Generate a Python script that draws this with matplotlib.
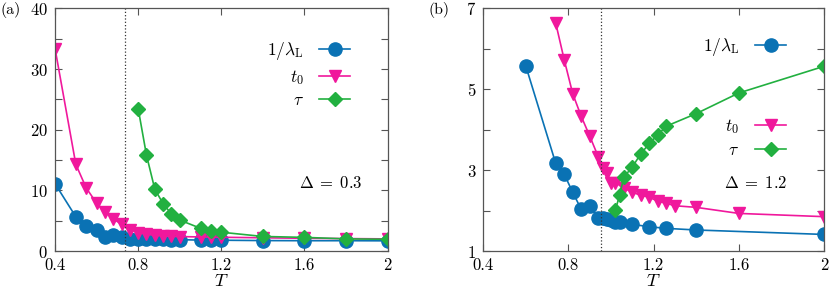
import matplotlib
matplotlib.use('Agg')
from matplotlib import pyplot as plt
from matplotlib.ticker import MultipleLocator

plt.rcParams['font.family'] = 'cmr10'
plt.rcParams['mathtext.fontset'] = 'cm'
plt.rcParams['axes.formatter.use_mathtext'] = True
plt.rcParams['font.size'] = 12

blue = '#0a72b4'
pink = '#f0189c'
green = '#22b040'

# panel (a), Delta = 0.3
Ta_lam = [0.4, 0.5, 0.55, 0.6, 0.64, 0.68, 0.72, 0.76, 0.8, 0.84, 0.88, 0.92, 0.96, 1.0,
          1.1, 1.15, 1.2, 1.4, 1.6, 1.8, 2.0]
a_lam = [11.1, 5.65, 4.1, 3.5, 2.3, 2.6, 2.25, 2.05, 1.95, 1.93, 1.9, 1.9, 1.88, 1.87,
         1.8, 1.8, 1.78, 1.72, 1.7, 1.7, 1.68]
Ta_t0 = [0.4, 0.5, 0.55, 0.6, 0.64, 0.68, 0.72, 0.76, 0.8, 0.84, 0.88, 0.92, 0.96, 1.0,
         1.1, 1.15, 1.2, 1.4, 1.6, 1.8, 2.0]
a_t0 = [33.4, 14.3, 10.4, 7.9, 6.5, 5.3, 4.4, 3.5, 3.05, 2.75, 2.6, 2.5, 2.42, 2.38,
        2.32, 2.3, 2.27, 2.18, 2.1, 2.05, 2.0]
Ta_tau = [0.8, 0.84, 0.88, 0.92, 0.96, 1.0, 1.1, 1.15, 1.2, 1.4, 1.6, 1.8, 2.0]
a_tau = [23.5, 15.8, 10.2, 7.8, 6.1, 5.1, 3.75, 3.3, 3.1, 2.4, 2.25, 2.0, 1.93]
Tc_a = 0.737

# panel (b), Delta = 1.2
Tb_lam = [0.6, 0.74, 0.78, 0.82, 0.86, 0.9, 0.94, 0.96, 0.98, 1.0, 1.02, 1.04,
          1.1, 1.18, 1.26, 1.4, 2.0]
b_lam = [5.57, 3.17, 2.9, 2.45, 2.03, 2.12, 1.81, 1.82, 1.78, 1.76, 1.72, 1.73,
         1.66, 1.6, 1.56, 1.52, 1.41]
Tb_t0 = [0.74, 0.78, 0.82, 0.86, 0.9, 0.94, 0.96, 0.98, 1.0, 1.02, 1.06, 1.1, 1.14,
         1.18, 1.22, 1.26, 1.3, 1.4, 1.6, 2.0]
b_t0 = [6.64, 5.73, 4.89, 4.33, 3.84, 3.33, 3.06, 2.92, 2.69, 2.69, 2.56, 2.45, 2.38,
        2.33, 2.23, 2.18, 2.12, 2.08, 1.93, 1.85]
Tb_tau = [1.02, 1.04, 1.06, 1.1, 1.14, 1.18, 1.22, 1.26, 1.4, 1.6, 2.0]
b_tau = [2.01, 2.38, 2.83, 3.08, 3.41, 3.66, 3.88, 4.09, 4.40, 4.91, 5.57]
Tc_b = 0.955

fig = plt.figure(figsize=(8.3, 2.93), dpi=100)
axa = fig.add_axes([0.0663, 0.1433, 0.4007, 0.8277])
axb = fig.add_axes([0.5823, 0.1433, 0.4105, 0.8277])


def style(ax):
    for s in ax.spines.values():
        s.set_color('#555555')
        s.set_linewidth(0.9)
    ax.tick_params(which='both', direction='in', top=True, right=True,
                   color='#555555', width=0.8, labelsize=12)
    ax.tick_params(which='major', length=5, pad=5)
    ax.tick_params(which='minor', length=5)
    ax.set_xlim(0.4, 2)
    ax.set_xticks([0.4, 0.8, 1.2, 1.6, 2])
    ax.set_xticklabels(['0.4', '0.8', '1.2', '1.6', '2'])
    ax.set_xlabel('$T$', labelpad=0, fontsize=13)


lw = 1.2
ms_c, ms_v, ms_d = 9.5, 9, 7
leg_kw = dict(frameon=False, markerfirst=False, handlelength=1.8,
              handletextpad=0.9, fontsize=12.5)

axa.plot(Ta_lam, a_lam, '-o', color=blue, ms=ms_c, lw=lw, label=r'$1/\lambda_{\rm L}$')
axa.plot(Ta_t0, a_t0, '-v', color=pink, ms=ms_v, lw=lw, label='$t_0$')
axa.plot(Ta_tau, a_tau, '-D', color=green, ms=ms_d, lw=lw, label=r'$\tau$')
axa.axvline(Tc_a, color='#333333', ls=':', lw=0.9)
style(axa)
axa.set_ylim(0, 40)
axa.set_yticks([0, 10, 20, 30, 40])
axa.yaxis.set_minor_locator(MultipleLocator(5))
axa.legend(loc='upper right', bbox_to_anchor=(0.935, 0.935), labelspacing=0.35, **leg_kw)
axa.text(0.83, 0.28, r'$\Delta\;=\;0.3$', transform=axa.transAxes, ha='center',
         va='center', fontsize=12)

axb.plot(Tb_lam, b_lam, '-o', color=blue, ms=ms_c, lw=lw, label=r'$1/\lambda_{\rm L}$')
axb.plot(Tb_t0, b_t0, '-v', color=pink, ms=ms_v, lw=lw, label='$t_0$')
axb.plot(Tb_tau, b_tau, '-D', color=green, ms=ms_d, lw=lw, label=r'$\tau$')
axb.axvline(Tc_b, color='#333333', ls=':', lw=0.9)
style(axb)
axb.set_ylim(1, 7)
axb.set_yticks([1, 3, 5, 7])
axb.yaxis.set_minor_locator(MultipleLocator(1))
h, lab = axb.get_legend_handles_labels()
leg1 = axb.legend(h[:1], lab[:1], loc='upper right', bbox_to_anchor=(0.935, 0.95), **leg_kw)
axb.add_artist(leg1)
axb.legend(h[1:], lab[1:], loc='upper right', bbox_to_anchor=(0.935, 0.615),
           labelspacing=0.35, **leg_kw)
axb.text(0.8, 0.28, r'$\Delta\;=\;1.2$', transform=axb.transAxes, ha='center',
         va='center', fontsize=12)

fig.text(0.0, 0.965, '(a)', ha='left', va='center', fontsize=11.5)
fig.text(0.516, 0.965, '(b)', ha='left', va='center', fontsize=11.5)

fig.savefig('out.png', dpi=100)
